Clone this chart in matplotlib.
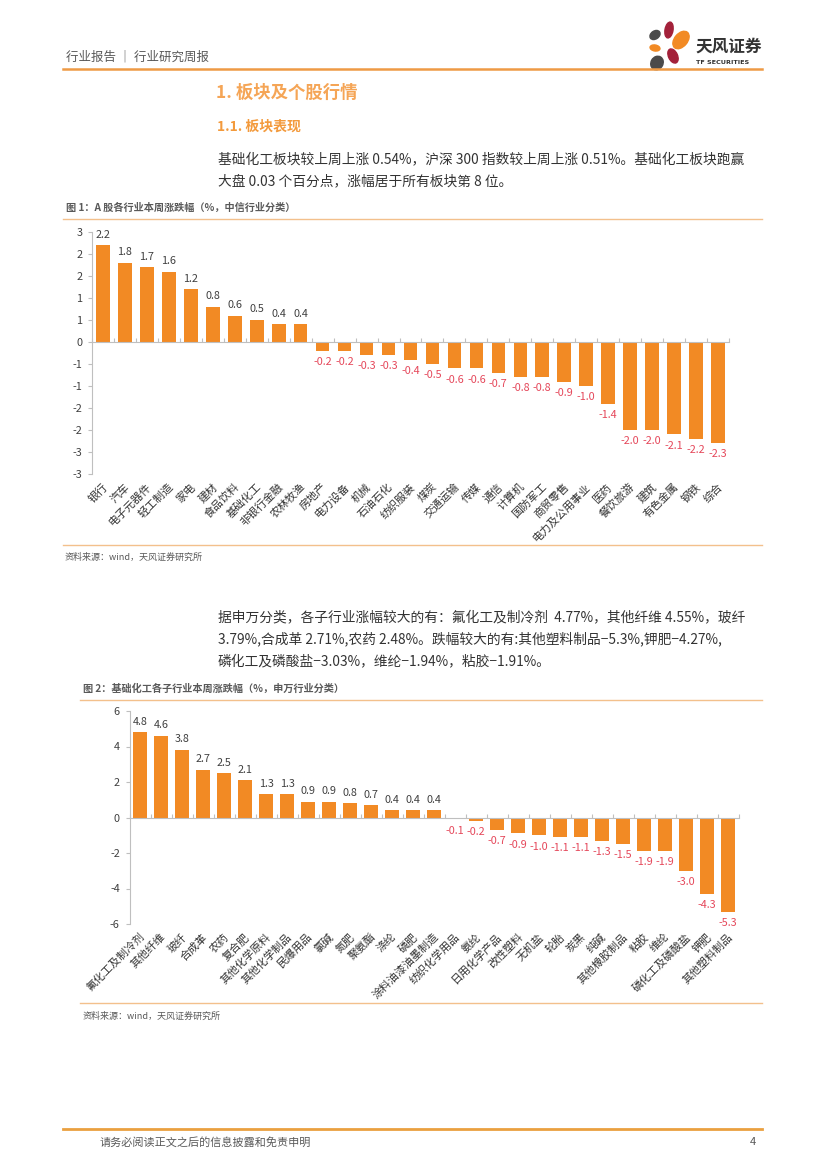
import numpy as np
import matplotlib
matplotlib.use('Agg')
import matplotlib.pyplot as plt
import matplotlib.transforms as mtrans
from matplotlib.lines import Line2D
from matplotlib.patches import Ellipse

plt.rcParams['font.family'] = ['Noto Sans CJK SC', 'DejaVu Sans']
plt.rcParams['axes.unicode_minus'] = False

# -------------------------------------------------------------------
# data
cat1 = ['银行', '汽车', '电子元器件', '轻工制造', '家电', '建材', '食品饮料', '基础化工',
        '非银行金融', '农林牧渔', '房地产', '电力设备', '机械', '石油石化', '纺织服装',
        '煤炭', '交通运输', '传媒', '通信', '计算机', '国防军工', '商贸零售',
        '电力及公用事业', '医药', '餐饮旅游', '建筑', '有色金属', '钢铁', '综合']
val1 = [2.2, 1.8, 1.7, 1.6, 1.2, 0.8, 0.6, 0.5, 0.4, 0.4, -0.2, -0.2, -0.3, -0.3, -0.4,
        -0.5, -0.6, -0.6, -0.7, -0.8, -0.8, -0.9, -1.0, -1.4, -2.0, -2.0, -2.1, -2.2, -2.3]

cat2 = ['氟化工及制冷剂', '其他纤维', '玻纤', '合成革', '农药', '复合肥', '其他化学原料',
        '其他化学制品', '民爆用品', '氯碱', '氮肥', '聚氨酯', '涤纶', '磷肥',
        '涂料油漆油墨制造', '纺织化学用品', '氨纶', '日用化学产品', '改性塑料', '无机盐',
        '轮胎', '炭黑', '纯碱', '其他橡胶制品', '粘胶', '维纶', '磷化工及磷酸盐', '钾肥',
        '其他塑料制品']
val2 = [4.8, 4.6, 3.8, 2.7, 2.5, 2.1, 1.3, 1.3, 0.9, 0.9, 0.8, 0.7, 0.4, 0.4, 0.4,
        -0.1, -0.2, -0.7, -0.9, -1.0, -1.1, -1.1, -1.3, -1.5, -1.9, -1.9, -3.0, -4.3, -5.3]

# -------------------------------------------------------------------
W, H = 827, 1169
ORANGE = '#F28A24'
LINE_OR = '#EE9A45'
LIGHT_OR = '#F3C08C'
TXT = '#333333'
GRAY = '#595959'
NEG = '#E5475A'

fig = plt.figure(figsize=(W / 100, H / 100), dpi=100)


def fx(x):
  return x / W


def fy(y):
  return 1 - y / H


def hline(y, x0, x1, color, lw):
  fig.add_artist(Line2D([fx(x0), fx(x1)], [fy(y), fy(y)], color=color, lw=lw,
                        transform=fig.transFigure))


def ptext(x, y, s, **kw):
  fig.text(fx(x), fy(y), s, va='center', ha='left', **kw)


def px_axes(x0, y0, x1, y1):
  return fig.add_axes([fx(x0), fy(y1), (x1 - x0) / W, (y1 - y0) / H])


def xl_round(v):
  # Excel-style rounding for tick labels (half away from zero)
  r = np.sign(v) * np.floor(abs(v) + 0.5)
  return '%d' % r


# -------------------------------------------------------------------
# header
ptext(66, 57, '行业报告 ｜ 行业研究周报', fontsize=9, color=GRAY)
hline(69, 63, 762, LINE_OR, 1.8)

lax = px_axes(636, 20, 692, 72)
lax.set_xlim(636, 692)
lax.set_ylim(72, 20)
lax.set_aspect('equal')
lax.axis('off')
petals = [((655, 35), 11, 8, -35, '#4A4A4A'),
          ((669, 30), 8, 16, 10, '#A3213A'),
          ((681, 40), 13, 20, 40, '#F28A24'),
          ((655, 48), 10, 6, 10, '#F28A24'),
          ((673, 56), 9, 15, -25, '#A3213A'),
          ((657, 63), 12, 14, 30, '#4A4A4A')]
for (c, w, h, a, col) in petals:
  lax.add_patch(Ellipse(c, w, h, angle=a, color=col))
ptext(695, 47, '天风证券', fontsize=12, color='#333333', fontweight='bold')
ptext(696, 63, 'TF SECURITIES', fontsize=4.6, color='#333333', fontweight='bold',
      family=['DejaVu Sans'])

# titles and paragraphs
ptext(216, 93, '1. 板块及个股行情', fontsize=12.5, color='#F5A556', fontweight='bold')
ptext(217, 127, '1.1. 板块表现', fontsize=10, color='#F39A3C', fontweight='bold')
ptext(218, 159, '基础化工板块较上周上涨 0.54%，沪深 300 指数较上周上涨 0.51%。基础化工板块跑赢',
      fontsize=9.9, color=TXT)
ptext(218, 181, '大盘 0.03 个百分点，涨幅居于所有板块第 8 位。', fontsize=9.9, color=TXT)

ptext(218, 617, '据申万分类，各子行业涨幅较大的有：氟化工及制冷剂  4.77%，其他纤维 4.55%，玻纤',
      fontsize=9.9, color=TXT)
ptext(218, 639, '3.79%,合成革 2.71%,农药 2.48%。跌幅较大的有:其他塑料制品−5.3%,钾肥−4.27%,',
      fontsize=9.9, color=TXT)
ptext(218, 661, '磷化工及磷酸盐−3.03%，维纶−1.94%，粘胶−1.91%。', fontsize=9.9, color=TXT)

# captions / sources
ptext(66, 208, '图 1：A 股各行业本周涨跌幅（%，中信行业分类）', fontsize=7.3, color=GRAY,
      fontweight='bold')
hline(219, 63, 762, LIGHT_OR, 1.0)
hline(545, 63, 762, LIGHT_OR, 1.0)
ptext(65, 557, '资料来源：wind，天风证券研究所', fontsize=6.5, color=GRAY)

ptext(83, 689, '图 2：基础化工各子行业本周涨跌幅（%，申万行业分类）', fontsize=7.3, color=GRAY,
      fontweight='bold')
hline(700, 80, 762, LIGHT_OR, 1.0)
hline(1003, 80, 762, LIGHT_OR, 1.0)
ptext(83, 1016, '资料来源：wind，天风证券研究所', fontsize=6.5, color=GRAY)

# footer
hline(1129, 63, 762, '#EAA040', 2.0)
ptext(100, 1142, '请务必阅读正文之后的信息披露和免责申明', fontsize=8, color=GRAY)
fig.text(fx(756), fy(1142), '4', fontsize=8, color=GRAY, ha='right', va='center')


# -------------------------------------------------------------------
def bar_chart(ax, cats, vals, ylim, yticks, yfmt, lab_off):
  x = np.arange(len(cats))
  ax.bar(x, vals, width=0.62, color=ORANGE, zorder=2)
  ax.set_xlim(-0.5, len(cats) - 0.5)
  ax.set_ylim(*ylim)
  ax.set_yticks(yticks)
  ax.set_yticklabels([yfmt(t) for t in yticks])
  ax.tick_params(axis='y', length=3, color='#BFBFBF', labelsize=7.8, labelcolor='#404040',
                 pad=4)
  for s in ['top', 'right']:
    ax.spines[s].set_visible(False)
  ax.spines['left'].set_color('#BFBFBF')
  ax.spines['bottom'].set_color('#BFBFBF')
  ax.spines['bottom'].set_position(('data', 0))
  ax.set_xticks(np.arange(len(cats) + 1) - 0.5)
  ax.set_xticklabels([])
  ax.tick_params(axis='x', direction='in', length=3, color='#BFBFBF')
  ax.patch.set_alpha(0)

  # value labels
  for i, v in enumerate(vals):
    if v >= 0:
      ax.annotate('%.1f' % v, (i, v), xytext=(0, 4), textcoords='offset points',
                  ha='center', va='bottom', fontsize=7.8, color='#404040')
    else:
      ax.annotate('%.1f' % v, (i, v), xytext=(0, -4.5), textcoords='offset points',
                  ha='center', va='top', fontsize=7.8, color=NEG)

  # category labels below the plot
  tr = mtrans.blended_transform_factory(ax.transData, ax.transAxes)
  for i, c in enumerate(cats):
    ax.annotate(c, (i, 0), xycoords=tr, xytext=(lab_off[0], lab_off[1]),
                textcoords='offset points', rotation=45, rotation_mode='anchor',
                ha='right', va='center', fontsize=7.9, color='#333333')


ax1 = px_axes(92, 232, 729, 474)
bar_chart(ax1, cat1, val1, (-3, 2.5), np.arange(-3, 2.51, 0.5), xl_round, (2, -8))

ax2 = px_axes(129.5, 711, 738.5, 924)
bar_chart(ax2, cat2, val2, (-6, 6), np.arange(-6, 6.1, 2), lambda t: '%d' % t, (2, -8))

plt.savefig('out.png', dpi=100)
plt.close()
